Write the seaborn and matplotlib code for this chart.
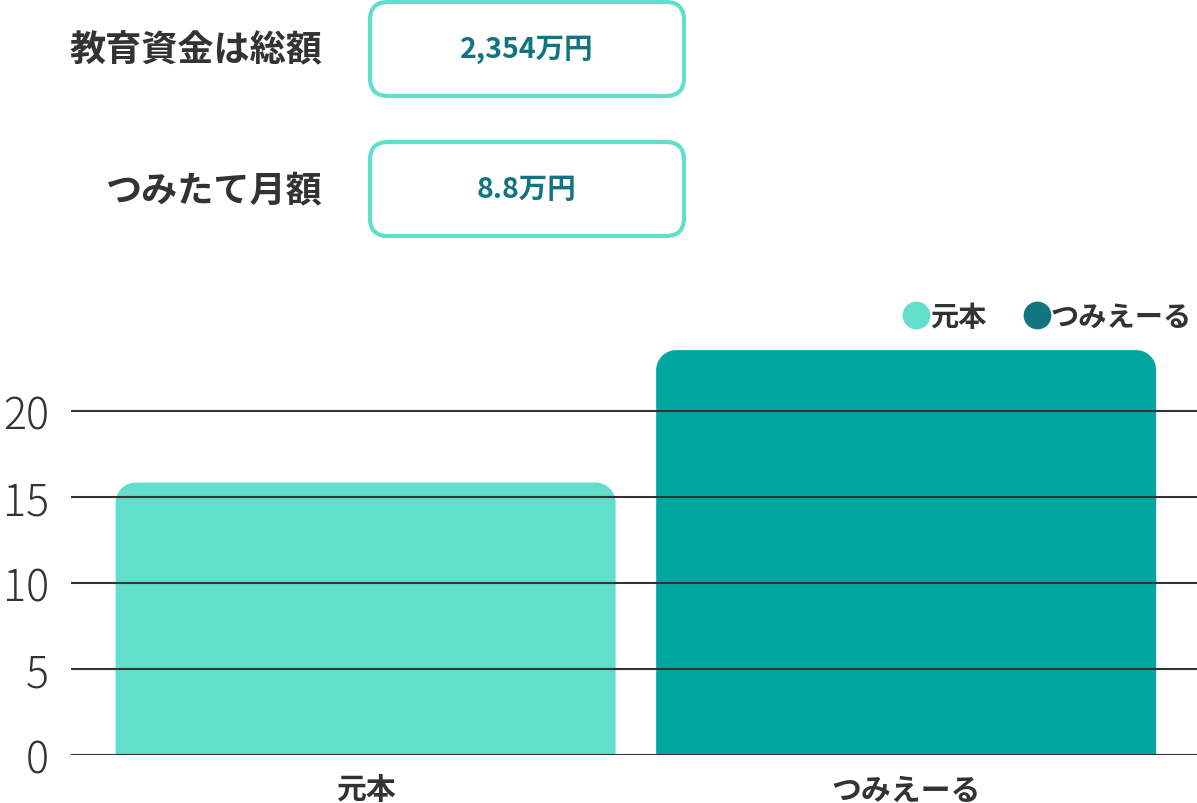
import matplotlib
matplotlib.use("Agg")
import matplotlib.pyplot as plt
from matplotlib.patches import FancyBboxPatch, PathPatch
from matplotlib.path import Path
from matplotlib.lines import Line2D
import seaborn as sns
import pandas as pd

# data
categories = ["元本", "つみえーる"]
values = [15.84, 23.54]
yticks = [0, 5, 10, 15, 20]
info_labels = ["教育資金は総額", "つみたて月額"]
info_values = ["2,354万円", "8.8万円"]

bar_colors = ["#62dfcc", "#00a6a0"]
legend_colors = ["#62dfcc", "#127480"]
text_dark = "#333333"
value_color = "#127480"

sns.set_theme(style="white")
plt.rcParams['font.family'] = ['Noto Sans CJK JP', 'DejaVu Sans']

W, H = 1197, 804
fig = plt.figure(figsize=(W / 100, H / 100), dpi=100, facecolor='white')

# chart area in pixels
ax_l, ax_r, ax_b, ax_t = 71, 1197, 756, 326
ax = fig.add_axes([ax_l / W, (H - ax_b) / H, (ax_r - ax_l) / W, (ax_b - ax_t) / H])

df = pd.DataFrame({"cat": categories, "val": values})
sns.barplot(data=df, x="cat", y="val", hue="cat", palette=bar_colors,
            saturation=1, width=0.925, legend=False, ax=ax, zorder=1)

x_lo, x_hi = -0.545, 1.538
ax.set_xlim(x_lo, x_hi)
ax.set_ylim(0, 25)


def top_rounded(x, y, w, h, rx, ry):
    # rectangle path with only the two top corners rounded
    k = 0.5523
    verts = [(x, y), (x + w, y), (x + w, y + h - ry),
             (x + w, y + h - ry + k * ry), (x + w - rx + k * rx, y + h), (x + w - rx, y + h),
             (x + rx, y + h),
             (x + rx - k * rx, y + h), (x, y + h - ry + k * ry), (x, y + h - ry),
             (x, y)]
    codes = [Path.MOVETO, Path.LINETO, Path.LINETO,
             Path.CURVE4, Path.CURVE4, Path.CURVE4,
             Path.LINETO,
             Path.CURVE4, Path.CURVE4, Path.CURVE4,
             Path.CLOSEPOLY]
    return Path(verts, codes)


px_x = (x_hi - x_lo) / (ax_r - ax_l)
px_y = 25 / (ax_b - ax_t)
for p in list(ax.patches):
    c = p.get_facecolor()
    p.set_visible(False)
    path = top_rounded(p.get_x(), p.get_y(), p.get_width(), p.get_height(),
                       20 * px_x, 20 * px_y)
    ax.add_patch(PathPatch(path, facecolor=c, edgecolor='none', zorder=1))

for t in yticks:
    ax.axhline(t, color='#333333', lw=1.5, zorder=3)

ax.set_yticks(yticks)
ax.set_yticklabels([str(t) for t in yticks], fontsize=31, color=text_dark,
                   fontweight='light')
ax.tick_params(axis='y', length=0, pad=16)
ax.tick_params(axis='x', length=0, pad=14, labelsize=21.5, labelcolor=text_dark)
for lab in ax.get_xticklabels():
    lab.set_fontweight('bold')
ax.set_xlabel("")
ax.set_ylabel("")
sns.despine(ax=ax, left=True, bottom=True, top=True, right=True)
ax.grid(False)

handles = [Line2D([0], [0], marker='o', linestyle='none', markersize=20,
                  markerfacecolor=c, markeredgecolor='none') for c in legend_colors]
leg = fig.legend(handles, categories, loc='center right',
                 bbox_to_anchor=(1192 / W, (H - 318) / H), ncol=2, frameon=False,
                 handlelength=0.75, handletextpad=0.12, columnspacing=1.4,
                 prop={'size': 20.3, 'weight': 'bold'}, borderaxespad=0, borderpad=0)
for t in leg.get_texts():
    t.set_color(text_dark)

# top info panel drawn in pixel coordinates
top = fig.add_axes([0, 0, 1, 1], zorder=5)
top.set_xlim(0, W)
top.set_ylim(H, 0)
top.axis('off')
top.patch.set_alpha(0)

box_y = [2, 142]
for lab, val, by in zip(info_labels, info_values, box_y):
    top.add_patch(FancyBboxPatch((370, by + 1), 314, 94,
                                 boxstyle="round,pad=0,rounding_size=18",
                                 facecolor='white', edgecolor='#62dfcc', lw=3))
    top.text(322, by + 49, lab, ha='right', va='center', fontsize=26,
             fontweight='bold', color=text_dark)
    top.text(527, by + 48, val, ha='center', va='center', fontsize=20.5,
             fontweight='bold', color=value_color)

fig.savefig("out.png", dpi=100, facecolor='white')
